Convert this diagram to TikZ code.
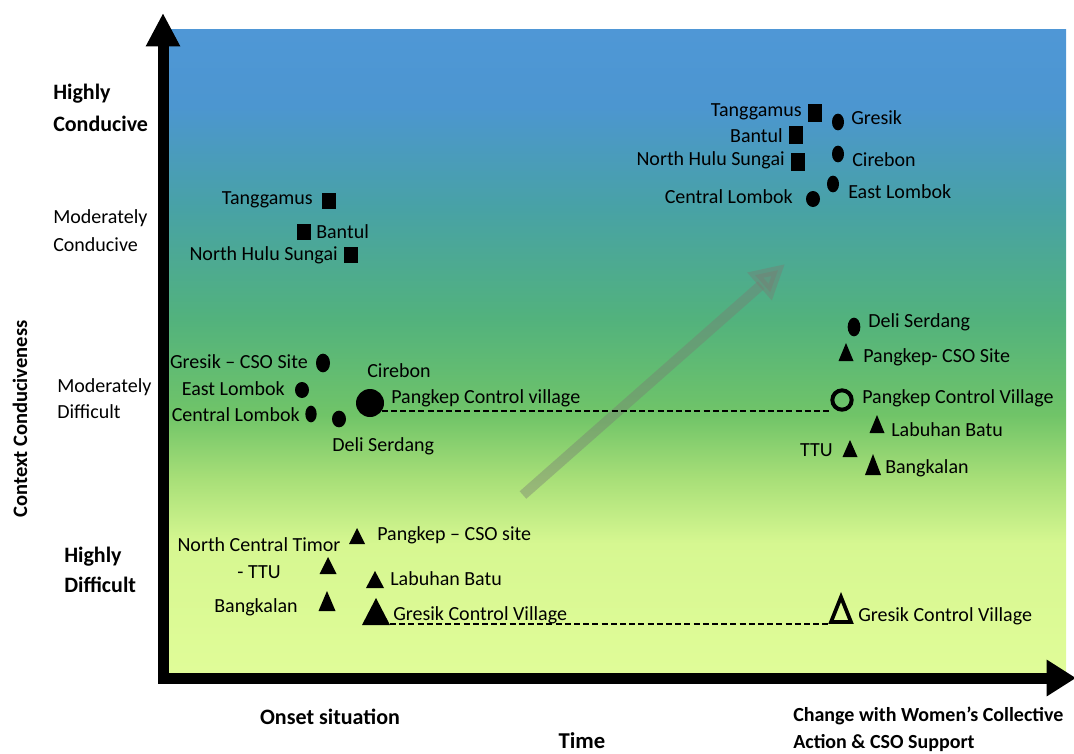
\documentclass[tikz,border=0pt]{standalone}
\usepackage{fontspec}
\setmainfont{Carlito}
\usetikzlibrary{arrows.meta,shapes.geometric}
\definecolor{c0}{RGB}{224,252,152}
\definecolor{c1}{RGB}{214,247,145}
\definecolor{c2}{RGB}{168,223,120}
\definecolor{c3}{RGB}{112,196,104}
\definecolor{c4}{RGB}{82,178,125}
\definecolor{c5}{RGB}{72,162,165}
\definecolor{c6}{RGB}{76,150,208}
\definecolor{c7}{RGB}{79,151,214}
\pgfdeclareverticalshading{bgshade}{100bp}{color(0bp)=(c0); color(25bp)=(c0); color(35bp)=(c1); color(40bp)=(c2); color(45bp)=(c3); color(52.5bp)=(c4); color(61bp)=(c5); color(69bp)=(c6); color(75bp)=(c7); color(100bp)=(c7)}
\newcommand\mktri[5]{%
  \fill (#2,#3) -- ({#2+#5},#4) -- ({#2-#5},#4) -- cycle;
  \coordinate (#1) at (#2,{(#3+#4)/2});}
\begin{document}
\begin{tikzpicture}[x=0.75pt,y=-0.75pt,
  lbl/.style={inner sep=0pt, font=\fontsize{15}{18}\selectfont},
  ylab/.style={inner sep=0pt, anchor=west, align=left},
  sqm/.style={rectangle, fill=black, inner sep=0pt, minimum width=10pt, minimum height=12.5pt},
  dotm/.style={ellipse, fill=black, inner sep=0pt, minimum width=10pt, minimum height=13pt},
  axisln/.style={line width=8.25pt, line cap=rect},
  dashln/.style={line width=1.6pt, dash pattern=on 4.5pt off 2.4pt}
]
\useasboundingbox (0,0) rectangle (1074,753);
% background gradient
\shade[shading=bgshade] (163,29) rectangle (1066,672);

% grey trend arrow
\coordinate (arrS) at (523,495);
\coordinate (arrE) at (785,264);
\draw[line width=7.5pt, draw={rgb,255:red,120;green,125;blue,115}, opacity=0.42, -{Triangle[length=25.5pt,width=26pt]}] (arrS) -- (arrE);

% axes
\coordinate (O) at (163,678);
\coordinate (ytip) at (163,13);
\coordinate (xtip) at (1076,678);
\draw[axisln, -{Triangle[length=25pt,width=24pt]}] (O) -- (ytip);
\draw[axisln, -{Triangle[length=22pt,width=26pt]}] (O) -- (xtip);

% y-axis labels
\node[ylab, font=\fontsize{16.5}{24}\bfseries\selectfont] (hc) at (53,108) {Highly\\Conducive};
\node[ylab, font=\fontsize{15}{21}\selectfont] (mc) at (53,231) {Moderately\\Conducive};
\node[ylab, font=\fontsize{15}{19.5}\selectfont] (md) at (57,399) {Moderately\\Difficult};
\node[ylab, font=\fontsize{16.5}{23}\bfseries\selectfont] (hd) at (64,570) {Highly\\Difficult};
\node[rotate=90, inner sep=0pt, font=\fontsize{15.4}{18}\bfseries\selectfont] (ytitle) at (20,419) {Context Conduciveness};

% x-axis labels
\node[inner sep=0pt, font=\fontsize{16.5}{20}\bfseries\selectfont] (onset) at (330,717) {Onset situation};
\node[inner sep=0pt, font=\fontsize{17}{20}\bfseries\selectfont] (time) at (582,741) {Time};
\node[ylab, font=\fontsize{15}{20}\bfseries\selectfont] (chg) at (793,729) {Change with Women’s Collective\\Action \& CSO Support};

% ---- onset situation ----
\node[sqm, minimum width=10.5pt, minimum height=12pt] (sqTanL) at (329,201) {};
\node[lbl, anchor=east] (tTanL) at (313,200) {Tanggamus};
\node[sqm, minimum width=10.5pt, minimum height=12.5pt] (sqBanL) at (304,232) {};
\node[lbl, anchor=west] (tBanL) at (316,232) {Bantul};
\node[sqm, minimum width=10.5pt, minimum height=12pt] (sqNhsL) at (351,255) {};
\node[lbl, anchor=east] (tNhsL) at (338,255) {North Hulu Sungai};

\node[dotm, minimum width=10.5pt, minimum height=14pt] (dGreL) at (323,363) {};
\node[lbl, anchor=east] (tGreL) at (308,362) {Gresik – CSO Site};
\node[dotm, minimum width=10.5pt, minimum height=12pt] (dEloL) at (302,390) {};
\node[lbl, anchor=east] (tEloL) at (285,389) {East Lombok};
\node[dotm, minimum width=8.5pt, minimum height=12.5pt] (dCloL) at (311,414) {};
\node[lbl, anchor=east] (tCloL) at (300,415) {Central Lombok};
\node[dotm, minimum width=10.5pt, minimum height=12.5pt] (dDelL) at (339,419) {};
\node[lbl, anchor=west] (tDelL) at (332,446) {Deli Serdang};
\node[circle, fill=black, inner sep=0pt, minimum size=21pt] (cirL) at (370,403) {};
\node[lbl, anchor=west] (tCirL) at (367,371) {Cirebon};
\node[lbl, anchor=west] (tPcvL) at (391,398) {Pangkep Control village};

\mktri{trPcsL}{357}{528}{544}{8}
\node[lbl, anchor=west] (tPcsL) at (377,535) {Pangkep – CSO site};
\node[lbl, align=center, font=\fontsize{15}{20}\selectfont] (tNctL) at (259,558) {North Central Timor\\- TTU};
\mktri{trTtuL}{328}{557}{574}{8.5}
\mktri{trLabL}{375}{571}{588}{9}
\node[lbl, anchor=west] (tLabL) at (390,579) {Labuhan Batu};
\mktri{trBanL}{327}{591}{611}{8.5}
\node[lbl, anchor=east] (tBkL) at (298,607) {Bangkalan};
\mktri{trGcvL}{376}{598}{625}{14}
\node[lbl, anchor=west] (tGcvL) at (393,615) {Gresik Control Village};

% ---- after change ----
\node[sqm, minimum width=11pt, minimum height=13.5pt] (sqTanR) at (815,113) {};
\node[lbl, anchor=east] (tTanR) at (802,112) {Tanggamus};
\node[sqm, minimum width=10pt, minimum height=13pt] (sqBanR) at (796,135) {};
\node[lbl, anchor=east] (tBanR) at (783,136) {Bantul};
\node[sqm, minimum width=10pt, minimum height=14pt] (sqNhsR) at (798,162) {};
\node[lbl, anchor=east] (tNhsR) at (785,160) {North Hulu Sungai};

\node[dotm, minimum width=9pt, minimum height=12.5pt] (dGreR) at (838,122) {};
\node[lbl, anchor=west] (tGreR) at (851,118) {Gresik};
\node[dotm, minimum width=9pt, minimum height=12.5pt] (dCirR) at (838,154) {};
\node[lbl, anchor=west] (tCirR) at (852,160) {Cirebon};
\node[dotm, minimum width=9pt, minimum height=12.5pt] (dEloR) at (833,184) {};
\node[lbl, anchor=west] (tEloR) at (848,192) {East Lombok};
\node[dotm, minimum width=10.5pt, minimum height=12pt] (dCloR) at (813,199) {};
\node[lbl, anchor=east] (tCloR) at (793,197) {Central Lombok};

\node[dotm, minimum width=9.5pt, minimum height=14pt] (dDelR) at (854,327) {};
\node[lbl, anchor=west] (tDelR) at (868,322) {Deli Serdang};
\mktri{trPcsR}{846}{343}{361}{7.5}
\node[lbl, anchor=west] (tPcsR) at (863,357) {Pangkep- CSO Site};
\node[circle, draw=black, line width=3pt, inner sep=0pt, minimum size=14.5pt] (pcvR) at (842,400) {};
\node[lbl, anchor=west] (tPcvR) at (862,398) {Pangkep Control Village};
\mktri{trLabR}{877}{415}{433}{7.5}
\node[lbl, anchor=west] (tLabR) at (891,430) {Labuhan Batu};
\mktri{trTtuR}{850}{440}{457}{7.5}
\node[lbl, anchor=east] (tTtuR) at (833,450) {TTU};
\mktri{trBanR}{873}{454}{475}{8}
\node[lbl, anchor=west] (tBkR) at (885,468) {Bangkalan};
\draw[line width=2.8pt, line join=miter] (841,597) -- (851,622) -- (831,622) -- cycle;
\coordinate (gcvR) at (831,624);
\coordinate (gcvL) at (390,624);
\node[lbl, anchor=west] (tGcvR) at (858,616) {Gresik Control Village};

% dashed connectors
\draw[dashln] (cirL.-35) -- (cirL.-35 -| pcvR.west);
\draw[dashln] (gcvL) -- (gcvR);
\end{tikzpicture}
\end{document}
